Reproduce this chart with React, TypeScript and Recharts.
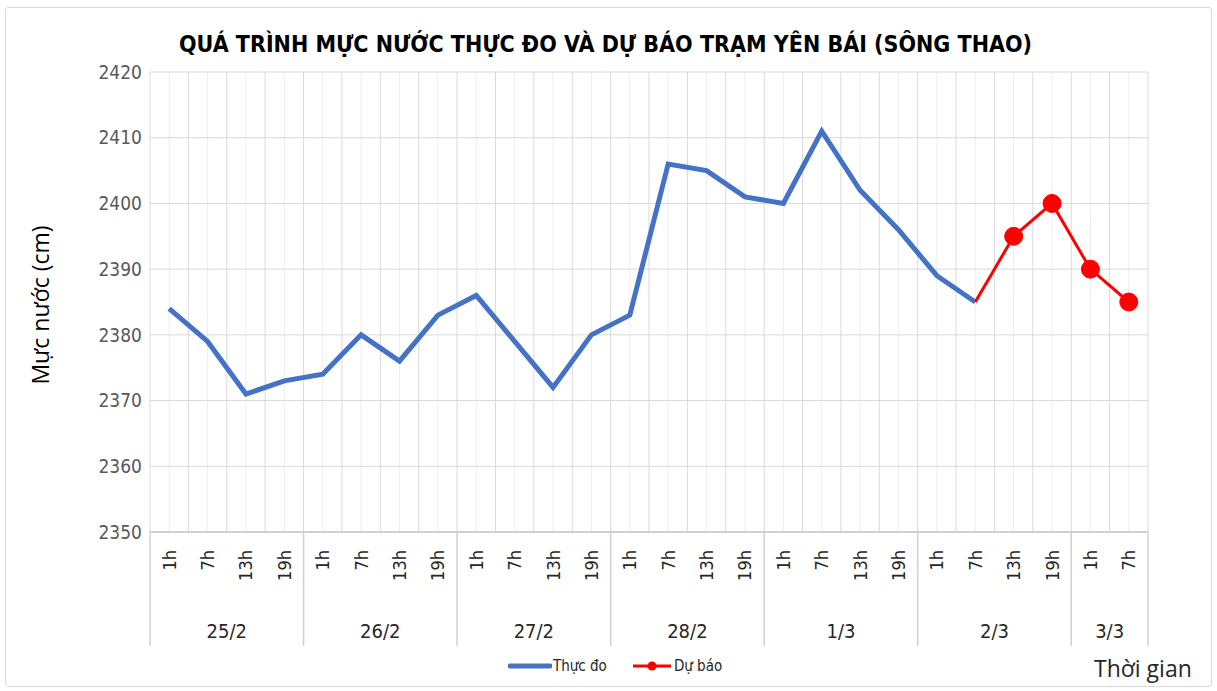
import { LineChart, Line, XAxis, YAxis, CartesianGrid } from 'recharts';

// ---------------------------------------------------------------------------
// Data
// ---------------------------------------------------------------------------

const HOURS = [
  '1h', '7h', '13h', '19h',
  '1h', '7h', '13h', '19h',
  '1h', '7h', '13h', '19h',
  '1h', '7h', '13h', '19h',
  '1h', '7h', '13h', '19h',
  '1h', '7h', '13h', '19h',
  '1h', '7h',
];

const DAYS = ['25/2', '26/2', '27/2', '28/2', '1/3', '2/3', '3/3'];
const DAY_SIZES = [4, 4, 4, 4, 4, 4, 2];

const OBSERVED: (number | null)[] = [
  2384, 2379, 2371, 2373,
  2374, 2380, 2376, 2383,
  2386, 2379, 2372, 2380,
  2383, 2406, 2405, 2401,
  2400, 2411, 2402, 2396,
  2389, 2385, null, null,
  null, null,
];

const FORECAST: (number | null)[] = [
  null, null, null, null,
  null, null, null, null,
  null, null, null, null,
  null, null, null, null,
  null, null, null, null,
  null, 2385, 2395, 2400,
  2390, 2385,
];

const Y_TICKS = [2350, 2360, 2370, 2380, 2390, 2400, 2410, 2420];

// ---------------------------------------------------------------------------
// Derived
// ---------------------------------------------------------------------------

const N = HOURS.length;
const chartData = HOURS.map((h, i) => ({
  x: i + 0.5,
  hour: h,
  observed: OBSERVED[i],
  forecast: FORECAST[i],
}));

// half-category ticks: centres carry hour labels, integers carry day stuff
const hourTicks = Array.from({ length: N * 2 + 1 }, (_, k) => k / 2);
const centers = HOURS.map((_, i) => i + 0.5);

const dayBounds: number[] = [0];
DAY_SIZES.forEach((s) => dayBounds.push(dayBounds[dayBounds.length - 1] + s));
const dayCenters = DAY_SIZES.map((s, i) => dayBounds[i] + s / 2);

const NARROW = "'Liberation Sans Narrow', 'DejaVu Sans Condensed', 'Open Sans', sans-serif";
const BLUE = '#4472C4';
const RED = '#FF0000';

// ---------------------------------------------------------------------------
// Ticks
// ---------------------------------------------------------------------------

const AxisTick = (props: any) => {
  const { x, y, payload } = props;
  const v = payload.value as number;
  const top = y - 8;
  if (Number.isInteger(v)) {
    if (dayBounds.includes(v)) {
      return <line x1={x} x2={x} y1={top} y2={top + 114} stroke="#d0d0d0" strokeWidth={1.5} />;
    }
    const d = dayCenters.indexOf(v);
    if (d < 0) return null;
    return (
      <text x={x} y={top + 106} textAnchor="middle" fontSize={20} fontFamily={NARROW} fill="#262626">
        {DAYS[d]}
      </text>
    );
  }
  const i = Math.floor(v);
  return (
    <text
      x={x}
      y={top + 18}
      transform={`rotate(-90, ${x}, ${top + 18})`}
      textAnchor="end"
      dominantBaseline="central"
      fontSize={18}
      fontFamily={NARROW}
      fill="#262626"
    >
      {HOURS[i]}
    </text>
  );
};

const ForecastDot = (props: any) => {
  const { cx, cy, index, value } = props;
  if (value == null || index === 21 || cx == null) return null;
  return <circle key={`d-${index}`} cx={cx} cy={cy} r={9} fill={RED} stroke={RED} />;
};

// ---------------------------------------------------------------------------
// Main
// ---------------------------------------------------------------------------

export default function App() {
  return (
    <div
      style={{
        position: 'absolute',
        left: 0,
        top: 0,
        width: 1217,
        height: 691,
        background: '#fff',
        fontFamily: NARROW,
      }}
    >
      {/* frame */}
      <div
        style={{
          position: 'absolute',
          left: 5,
          top: 7,
          width: 1205,
          height: 678,
          border: '1px solid #d9d9d9',
          borderRadius: 3,
        }}
      />

      {/* title */}
      <div
        style={{
          position: 'absolute',
          left: 0,
          width: 1211,
          top: 31,
          textAlign: 'center',
          fontWeight: 'bold',
          fontSize: 23,
          color: '#000',
          whiteSpace: 'nowrap',
        }}
      >
        QUÁ TRÌNH MỰC NƯỚC THỰC ĐO VÀ DỰ BÁO TRẠM YÊN BÁI (SÔNG THAO)
      </div>

      <LineChart
        width={1217}
        height={691}
        data={chartData}
        margin={{ top: 72, right: 69, bottom: 45, left: 0 }}
        style={{ position: 'absolute', left: 0, top: 0 }}
      >
        {/* faint lines at category centres */}
        <CartesianGrid
          horizontal={false}
          stroke="#eeeeee"
          verticalCoordinatesGenerator={({ offset }: any) =>
            centers.map((c) => offset.left + (c / N) * offset.width)
          }
        />
        <CartesianGrid
          stroke="#d9d9d9"
          strokeWidth={1}
          verticalCoordinatesGenerator={({ offset }: any) =>
            Array.from({ length: N + 1 }, (_, k) => offset.left + (k / N) * offset.width)
          }
        />
        <XAxis
          dataKey="x"
          type="number"
          domain={[0, N]}
          ticks={hourTicks}
          interval={0}
          height={114}
          tickLine={false}
          axisLine={{ stroke: '#d0d0d0', strokeWidth: 2 }}
          tick={<AxisTick />}
        />
        <YAxis
          domain={[2350, 2420]}
          ticks={Y_TICKS}
          interval={0}
          width={150}
          tickLine={false}
          axisLine={false}
          tick={{ fontSize: 19, fill: '#595959', fontFamily: NARROW }}
        />
        <Line
          dataKey="observed"
          stroke={BLUE}
          strokeWidth={5}
          dot={false}
          connectNulls={false}
          isAnimationActive={false}
        />
        <Line
          dataKey="forecast"
          stroke={RED}
          strokeWidth={3}
          dot={<ForecastDot />}
          connectNulls={false}
          isAnimationActive={false}
        />
      </LineChart>

      {/* y axis title */}
      <div
        style={{
          position: 'absolute',
          left: 40,
          top: 305,
          transform: 'translate(-50%, -50%) rotate(-90deg)',
          fontFamily: "'Open Sans', 'Noto Sans', sans-serif",
          fontSize: 23,
          color: '#000',
          whiteSpace: 'nowrap',
        }}
      >
        Mực nước (cm)
      </div>

      {/* legend */}
      <div
        style={{
          position: 'absolute',
          left: 508,
          top: 657,
          display: 'flex',
          alignItems: 'center',
          fontSize: 15,
          color: '#262626',
          whiteSpace: 'nowrap',
        }}
      >
        <svg width={44} height={14}>
          <line x1={2} x2={42} y1={7} y2={7} stroke={BLUE} strokeWidth={5} strokeLinecap="round" />
        </svg>
        <span style={{ marginLeft: 1 }}>Thực đo</span>
        <svg width={42} height={14} style={{ marginLeft: 24 }}>
          <line x1={2} x2={40} y1={7} y2={7} stroke={RED} strokeWidth={3} />
          <circle cx={21} cy={7} r={4.5} fill={RED} />
        </svg>
        <span style={{ marginLeft: 1 }}>Dự báo</span>
      </div>

      {/* x axis title */}
      <div
        style={{
          position: 'absolute',
          left: 1094,
          top: 652,
          fontFamily: "'Open Sans', 'Noto Sans', sans-serif",
          fontSize: 23,
          color: '#262626',
          whiteSpace: 'nowrap',
        }}
      >
        Thời gian
      </div>
    </div>
  );
}
